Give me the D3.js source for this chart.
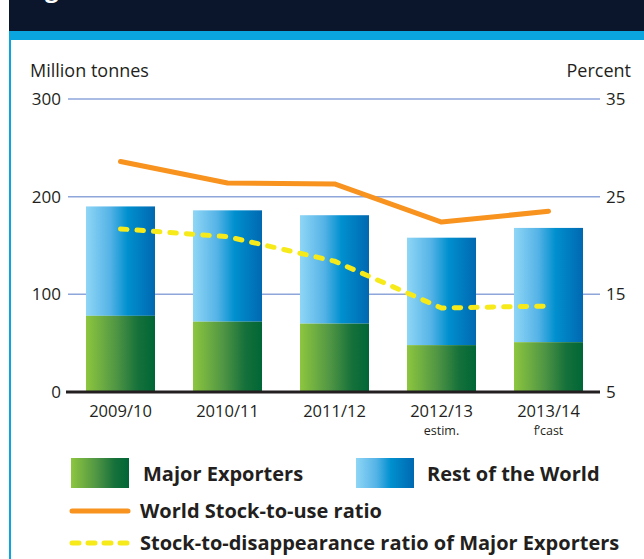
<!DOCTYPE html>
<html>
<head>
<meta charset="utf-8">
<script src="https://cdn.jsdelivr.net/npm/d3@7"></script>
<style>
  html, body { margin: 0; padding: 0; background: #fff; }
  svg { display: block; font-family: "Open Sans", "Noto Sans", sans-serif; }
</style>
</head>
<body>
<svg id="chart" width="644" height="559"></svg>
<script>
// Marketing years
const seasons = ["2009/10", "2010/11", "2011/12", "2012/13", "2013/14"];
const seasonNotes = ["", "", "", "estim.", "f\u2019cast"];

// Stocks, million tonnes
const majorExporters = [78, 72, 70, 48, 51];
const restOfWorld = [112, 114, 111, 110, 117];

// Ratios, percent
const worldStockToUse = [28.6, 26.4, 26.3, 22.4, 23.5];
const exporterStockToDisappearance = [21.7, 20.9, 18.4, 13.6, 13.8];

// Axis ticks
const leftTicks = [0, 100, 200, 300];
const rightTicks = [5, 15, 25, 35];

const svg = d3.select("#chart");
const defs = svg.append("defs");

function hGradient(id, stops) {
  const g = defs.append("linearGradient").attr("id", id)
    .attr("x1", "0%").attr("x2", "100%").attr("y1", "0%").attr("y2", "0%");
  stops.forEach(([o, c]) => g.append("stop").attr("offset", o).attr("stop-color", c));
}
hGradient("gGreen", [["0%", "#8dc63f"], ["45%", "#4e9444"], ["75%", "#16713a"], ["100%", "#006636"]]);
hGradient("gBlue", [["0%", "#8fd6f6"], ["35%", "#55b3e6"], ["60%", "#0090cf"], ["100%", "#0068b1"]]);

// Header band
svg.append("rect").attr("x", 9).attr("y", 0).attr("width", 635).attr("height", 31).attr("fill", "#0b162c");
svg.append("text").attr("x", 45).attr("y", -3).attr("fill", "#fff")
  .attr("font-size", 24).attr("font-weight", "bold").text("g");
svg.append("rect").attr("x", 9).attr("y", 31).attr("width", 635).attr("height", 9).attr("fill", "#0aa5de");
svg.append("rect").attr("x", 9).attr("y", 40).attr("width", 2).attr("height", 519).attr("fill", "#0aa5de");

// Scales
const x = d3.scaleBand().domain(seasons).range([67, 602]).paddingInner(0.355).paddingOuter(0.1775);
const yL = d3.scaleLinear().domain([0, 300]).range([392, 99]);
const yR = d3.scaleLinear().domain([5, 35]).range([392, 99]);

// Axis titles
svg.append("text").attr("x", 30).attr("y", 77).attr("font-size", 18).attr("fill", "#231f20").text("Million tonnes");
svg.append("text").attr("x", 631).attr("y", 77).attr("text-anchor", "end").attr("font-size", 18).attr("fill", "#231f20").text("Percent");

// Gridlines
svg.append("g").selectAll("line").data(leftTicks.filter(d => d > 0)).join("line")
  .attr("x1", 68).attr("x2", 600)
  .attr("y1", d => yL(d)).attr("y2", d => yL(d))
  .attr("stroke", "#8ea6da").attr("stroke-width", 1.5);

// Left axis labels
const axisL = d3.axisLeft(yL).tickValues(leftTicks).tickSize(0).tickPadding(0);
svg.append("g").attr("transform", "translate(61,0)").call(axisL)
  .call(g => g.select(".domain").remove())
  .selectAll("text").attr("font-size", 17).attr("fill", "#231f20")
  .attr("font-family", "\"Open Sans\", sans-serif");

// Right axis labels
const axisR = d3.axisRight(yR).tickValues(rightTicks).tickSize(0).tickPadding(0);
svg.append("g").attr("transform", "translate(606,0)").call(axisR)
  .call(g => g.select(".domain").remove())
  .selectAll("text").attr("font-size", 17).attr("fill", "#231f20")
  .attr("font-family", "\"Open Sans\", sans-serif");

// Stacked bars
const bars = svg.append("g");
bars.selectAll("rect.rest").data(seasons).join("rect").attr("class", "rest")
  .attr("x", d => x(d)).attr("width", x.bandwidth())
  .attr("y", (d, i) => yL(majorExporters[i] + restOfWorld[i]))
  .attr("height", (d, i) => yL(majorExporters[i]) - yL(majorExporters[i] + restOfWorld[i]))
  .attr("fill", "url(#gBlue)");
bars.selectAll("rect.major").data(seasons).join("rect").attr("class", "major")
  .attr("x", d => x(d)).attr("width", x.bandwidth())
  .attr("y", (d, i) => yL(majorExporters[i]))
  .attr("height", (d, i) => yL(0) - yL(majorExporters[i]))
  .attr("fill", "url(#gGreen)");

// Baseline
svg.append("line").attr("x1", 66).attr("x2", 600).attr("y1", yL(0)).attr("y2", yL(0))
  .attr("stroke", "#231f20").attr("stroke-width", 3);

// Category labels
const xAxis = svg.append("g");
xAxis.selectAll("text.cat").data(seasons).join("text").attr("class", "cat")
  .attr("x", d => x(d) + x.bandwidth() / 2).attr("y", 417)
  .attr("text-anchor", "middle").attr("font-size", 16.5).attr("fill", "#231f20").text(d => d);
xAxis.selectAll("text.note").data(seasons).join("text").attr("class", "note")
  .attr("x", d => x(d) + x.bandwidth() / 2).attr("y", 435)
  .attr("text-anchor", "middle").attr("font-size", 12.5).attr("fill", "#231f20")
  .text((d, i) => seasonNotes[i]);

// Ratio lines
const cx = d => x(d) + x.bandwidth() / 2;
const lineGen = d3.line().x(d => cx(d[0])).y(d => yR(d[1]));

svg.append("path")
  .datum(seasons.map((s, i) => [s, worldStockToUse[i]]))
  .attr("d", lineGen).attr("fill", "none")
  .attr("stroke", "#f7931e").attr("stroke-width", 5)
  .attr("stroke-linejoin", "round").attr("stroke-linecap", "round");

svg.append("path")
  .datum(seasons.map((s, i) => [s, exporterStockToDisappearance[i]]))
  .attr("d", lineGen).attr("fill", "none")
  .attr("stroke", "#f7ea1a").attr("stroke-width", 5)
  .attr("stroke-dasharray", "6.5,10").attr("stroke-linecap", "round")
  .attr("stroke-linejoin", "round");

// Legend
const legend = svg.append("g");
legend.append("rect").attr("x", 71).attr("y", 458).attr("width", 58).attr("height", 30).attr("fill", "url(#gGreen)");
legend.append("text").attr("x", 143).attr("y", 481).attr("font-size", 20).attr("font-weight", "bold")
  .attr("fill", "#231f20").text("Major Exporters");
legend.append("rect").attr("x", 356).attr("y", 458).attr("width", 58).attr("height", 30).attr("fill", "url(#gBlue)");
legend.append("text").attr("x", 427).attr("y", 481).attr("font-size", 20).attr("font-weight", "bold")
  .attr("fill", "#231f20").text("Rest of the World");

legend.append("line").attr("x1", 72).attr("x2", 128).attr("y1", 511).attr("y2", 511)
  .attr("stroke", "#f7931e").attr("stroke-width", 5).attr("stroke-linecap", "round");
legend.append("text").attr("x", 140).attr("y", 518).attr("font-size", 20).attr("font-weight", "bold")
  .attr("fill", "#231f20").text("World Stock-to-use ratio");

legend.append("line").attr("x1", 72).attr("x2", 128).attr("y1", 543).attr("y2", 543)
  .attr("stroke", "#f7ea1a").attr("stroke-width", 5).attr("stroke-linecap", "round")
  .attr("stroke-dasharray", "7,9");
legend.append("text").attr("x", 140).attr("y", 550).attr("font-size", 20).attr("font-weight", "bold")
  .attr("fill", "#231f20").text("Stock-to-disappearance ratio of Major Exporters");
</script>
</body>
</html>
